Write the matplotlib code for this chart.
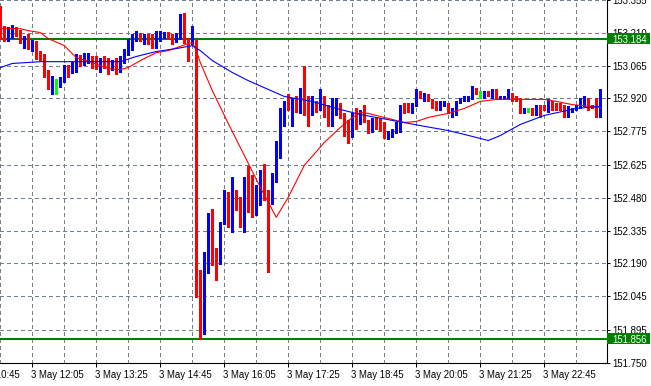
import matplotlib
matplotlib.use("Agg")
import matplotlib.pyplot as plt
import matplotlib.transforms as mtransforms
from matplotlib.patches import Rectangle
import numpy as np
import pandas as pd

# M5 bars, first visible bar opens at 11:25
first_bar = "2024-05-03 11:25"
bar_minutes = 5

opens = [153.318, 153.234, 153.194, 153.194, 153.234, 153.216, 153.163, 153.189, 153.150, 153.172,
         153.119, 153.106, 153.035, 152.960, 152.999, 152.991, 152.999, 153.044, 153.044, 153.048,
         153.097, 153.083, 153.092, 153.101, 153.092, 153.048, 153.088, 153.088, 153.052, 153.083,
         153.057, 153.088, 153.123, 153.141, 153.181, 153.203, 153.172, 153.194, 153.185, 153.154,
         153.185, 153.198, 153.207, 153.198, 153.181, 153.194, 153.282, 153.181, 153.172, 153.176,
         152.084, 151.890, 152.226, 152.328, 152.235, 152.195, 152.368, 152.478, 152.359, 152.483,
         152.443, 152.438, 152.558, 152.536, 152.412, 152.452, 152.584, 152.505, 152.456, 152.562,
         152.681, 152.836, 152.880, 152.876, 152.920, 152.880, 152.964, 152.924, 152.854, 152.889,
         152.876, 152.924, 152.876, 152.809, 152.858, 152.898, 152.845, 152.814, 152.756, 152.867,
         152.814, 152.854, 152.814, 152.778, 152.823, 152.809, 152.800, 152.748, 152.756, 152.774,
         152.778, 152.893, 152.893, 152.858, 152.889, 152.946, 152.924, 152.938, 152.911, 152.902,
         152.876, 152.889, 152.893, 152.854, 152.867, 152.902, 152.911, 152.916, 152.920, 152.964,
         152.942, 152.946, 152.951, 152.938, 152.960, 152.920, 152.920, 152.920, 152.942, 152.924,
         152.920, 152.858, 152.871, 152.876, 152.854, 152.880, 152.880, 152.862, 152.902, 152.898,
         152.889, 152.880, 152.840, 152.867, 152.871, 152.885, 152.889, 152.920, 152.889, 152.911,
         152.858]
highs = [153.331, 153.243, 153.238, 153.247, 153.238, 153.225, 153.198, 153.207, 153.181, 153.176,
         153.132, 153.119, 153.044, 153.021, 153.008, 153.017, 153.070, 153.070, 153.083, 153.119,
         153.114, 153.123, 153.123, 153.110, 153.106, 153.101, 153.106, 153.101, 153.092, 153.101,
         153.110, 153.141, 153.185, 153.207, 153.220, 153.212, 153.207, 153.207, 153.207, 153.220,
         153.220, 153.216, 153.216, 153.207, 153.212, 153.296, 153.300, 153.189, 153.243, 153.185,
         152.160, 152.239, 152.412, 152.429, 152.257, 152.372, 152.514, 152.505, 152.571, 152.514,
         152.483, 152.571, 152.619, 152.580, 152.536, 152.602, 152.628, 152.514, 152.588, 152.734,
         152.880, 152.911, 152.938, 152.924, 152.929, 152.968, 153.066, 152.933, 152.933, 152.911,
         152.964, 152.933, 152.889, 152.924, 152.924, 152.902, 152.854, 152.823, 152.854, 152.876,
         152.867, 152.889, 152.823, 152.832, 152.836, 152.832, 152.814, 152.778, 152.787, 152.814,
         152.889, 152.902, 152.902, 152.902, 152.964, 152.955, 152.946, 152.942, 152.916, 152.911,
         152.907, 152.907, 152.902, 152.880, 152.907, 152.924, 152.929, 152.929, 152.977, 152.968,
         152.955, 152.955, 152.955, 152.964, 152.964, 152.933, 152.933, 152.960, 152.946, 152.929,
         152.924, 152.880, 152.880, 152.880, 152.889, 152.889, 152.889, 152.916, 152.911, 152.902,
         152.898, 152.889, 152.885, 152.880, 152.893, 152.920, 152.929, 152.924, 152.893, 152.924,
         152.964]
lows = [153.185, 153.176, 153.176, 153.189, 153.198, 153.167, 153.145, 153.141, 153.132, 153.097,
        153.092, 153.017, 152.960, 152.942, 152.942, 152.973, 152.991, 153.013, 153.035, 153.039,
        153.066, 153.070, 153.079, 153.057, 153.052, 153.039, 153.057, 153.030, 153.044, 153.030,
        153.039, 153.079, 153.114, 153.136, 153.176, 153.176, 153.163, 153.163, 153.145, 153.145,
        153.176, 153.189, 153.185, 153.159, 153.172, 153.185, 153.167, 153.088, 153.163, 152.040,
        151.856, 151.877, 152.147, 152.182, 152.115, 152.186, 152.363, 152.350, 152.328, 152.425,
        152.350, 152.328, 152.416, 152.394, 152.403, 152.447, 152.469, 152.151, 152.452, 152.549,
        152.655, 152.800, 152.867, 152.800, 152.858, 152.854, 152.845, 152.800, 152.845, 152.858,
        152.867, 152.836, 152.800, 152.800, 152.845, 152.832, 152.756, 152.725, 152.748, 152.787,
        152.805, 152.814, 152.765, 152.770, 152.787, 152.778, 152.743, 152.739, 152.748, 152.765,
        152.770, 152.854, 152.858, 152.854, 152.885, 152.920, 152.911, 152.907, 152.876, 152.867,
        152.867, 152.885, 152.854, 152.836, 152.845, 152.898, 152.907, 152.911, 152.916, 152.938,
        152.924, 152.924, 152.933, 152.920, 152.916, 152.916, 152.916, 152.916, 152.907, 152.911,
        152.854, 152.854, 152.858, 152.849, 152.849, 152.836, 152.867, 152.858, 152.871, 152.867,
        152.871, 152.840, 152.836, 152.862, 152.867, 152.880, 152.885, 152.871, 152.876, 152.840,
        152.836]
closes = [153.220, 153.189, 153.216, 153.238, 153.212, 153.172, 153.189, 153.150, 153.172, 153.110,
          153.101, 153.035, 152.968, 152.999, 152.999, 153.008, 153.057, 153.021, 153.075, 153.101,
          153.075, 153.114, 153.110, 153.066, 153.061, 153.088, 153.066, 153.052, 153.079, 153.044,
          153.101, 153.128, 153.167, 153.185, 153.212, 153.185, 153.189, 153.176, 153.150, 153.181,
          153.198, 153.207, 153.194, 153.172, 153.203, 153.287, 153.185, 153.167, 153.185, 152.080,
          151.886, 152.226, 152.328, 152.226, 152.195, 152.368, 152.478, 152.363, 152.483, 152.438,
          152.438, 152.558, 152.540, 152.398, 152.452, 152.536, 152.505, 152.456, 152.562, 152.681,
          152.840, 152.880, 152.871, 152.920, 152.880, 152.964, 152.854, 152.809, 152.924, 152.876,
          152.924, 152.867, 152.809, 152.889, 152.898, 152.836, 152.770, 152.765, 152.814, 152.814,
          152.858, 152.832, 152.770, 152.823, 152.800, 152.792, 152.748, 152.770, 152.778, 152.800,
          152.867, 152.858, 152.862, 152.893, 152.946, 152.924, 152.938, 152.911, 152.880, 152.876,
          152.898, 152.898, 152.858, 152.867, 152.898, 152.920, 152.924, 152.924, 152.973, 152.942,
          152.942, 152.951, 152.938, 152.960, 152.920, 152.929, 152.929, 152.955, 152.911, 152.916,
          152.862, 152.876, 152.871, 152.854, 152.885, 152.867, 152.867, 152.911, 152.876, 152.880,
          152.876, 152.845, 152.876, 152.876, 152.889, 152.902, 152.920, 152.876, 152.880, 152.885,
          152.951]

# moving averages, read at selected bars
red_ma_bars = [0, 5, 7, 10, 12, 16, 19, 23, 27, 30, 32, 35, 39, 42, 47, 48, 49, 50, 53, 57,
               62, 65, 69, 72, 76, 81, 85, 88, 90, 92, 96, 101, 104, 107, 112, 116, 120, 124,
               136, 139, 143, 150]
red_ma = [153.229, 153.229, 153.220, 153.212, 153.185, 153.154, 153.101, 153.079, 153.052, 153.048,
          153.057, 153.088, 153.123, 153.132, 153.163, 153.167, 153.132, 153.079, 152.955, 152.809,
          152.633, 152.527, 152.394, 152.483, 152.624, 152.725, 152.792, 152.836, 152.858, 152.854,
          152.836, 152.814, 152.818, 152.836, 152.854, 152.876, 152.907, 152.916,
          152.916, 152.907, 152.893, 152.880]
blue_ma_bars = [0, 3, 10, 30, 34, 39, 44, 48, 50, 53, 58, 62, 67, 71, 75, 78, 84, 90, 98, 105,
                112, 116, 120, 122, 125, 130, 136, 144, 150]
blue_ma = [153.057, 153.075, 153.083, 153.083, 153.106, 153.128, 153.141, 153.154, 153.132, 153.088,
           153.035, 152.999, 152.960, 152.929, 152.916, 152.907, 152.876, 152.849, 152.823, 152.800,
           152.778, 152.761, 152.743, 152.734, 152.756, 152.805, 152.845, 152.876, 152.885]

price_ticks = [151.750, 151.895, 152.045, 152.190, 152.335, 152.480, 152.625,
               152.775, 152.920, 153.065, 153.210, 153.355]
time_labels = ["10:45", "12:05", "13:25", "14:45", "16:05", "17:25",
               "18:45", "20:05", "21:25", "22:45"]
levels = [153.184, 151.856]

GRID = "#708090"
GREEN = "#008000"
FONT = "Liberation Sans"
FS = 6.9

W, H = 651, 386
fig = plt.figure(figsize=(W / 100, H / 100), dpi=100)
fig.patch.set_facecolor("white")
ax = fig.add_axes([0, 23 / H, 606.5 / W, 363 / H])
n = len(opens)
ax.set_xlim(-0.075, 151.55)
ax.set_ylim(151.749, 153.356)

t0 = pd.Timestamp(first_bar)
def bar_of(hm):
    t = pd.Timestamp(first_bar[:11] + hm)
    return (t - t0) / pd.Timedelta(minutes=bar_minutes)

# grid
for p in price_ticks:
    ax.axhline(p, color=GRID, lw=0.75, ls=(0, (3, 3)), zorder=0, antialiased=False)
for b in range(0, n, 8):
    ax.axvline(b, color=GRID, lw=0.75, ls=(0, (3, 3)), zorder=0, antialiased=False)

# levels
for lv in levels:
    ax.axhline(lv, color=GREEN, lw=1.5, zorder=1)

# candles
o = np.array(opens); c = np.array(closes)
hi = np.array(highs); lo = np.array(lows)
idx = np.arange(n)
cols = np.where(c > o, "#0000FF", np.where(c < o, "#FF0000", "#00FF00"))
ax.vlines(idx, lo, hi, colors=cols, lw=0.75, zorder=3, antialiased=False)
px = (153.356 - 151.749) / 363
bottoms = np.minimum(o, c)
heights = np.maximum(np.abs(c - o), px)
ax.bar(idx, heights, bottom=bottoms, width=0.75, color=cols, lw=0, zorder=3, antialiased=False)

# moving averages
ax.plot(red_ma_bars, red_ma, color="#FF0000", lw=0.8, zorder=4)
ax.plot(blue_ma_bars, blue_ma, color="#0000FF", lw=0.8, zorder=4)

# axes look
for s in ["left", "top"]:
    ax.spines[s].set_visible(False)
for s in ["right", "bottom"]:
    ax.spines[s].set_linewidth(0.8)
    ax.spines[s].set_color("black")

ax.yaxis.tick_right()
ax.set_yticks(price_ticks)
ax.set_yticklabels([f"{p:.3f}" for p in price_ticks], fontfamily=FONT, fontsize=FS)
ax.tick_params(axis="y", direction="out", length=2.2, width=0.72, pad=2.0)

lab_bars = [bar_of(t) for t in time_labels]
ax.set_xticks([b for b in lab_bars if b >= 0])
ax.set_xticklabels([])
ax.tick_params(axis="x", direction="out", length=3, width=0.72)
xt = mtransforms.blended_transform_factory(ax.transData, ax.transAxes)
for b, t in zip(lab_bars, time_labels):
    ax.text(b - 0.4, (363 - 378.3) / 363, "3 May " + t, transform=xt, ha="left", va="baseline",
            fontfamily=FONT, fontsize=FS, clip_on=False)

# level boxes on the price scale
bt = mtransforms.blended_transform_factory(fig.transFigure, ax.transData)
for lv in levels:
    ax.add_patch(Rectangle((607 / W, lv - 5.5 * px), 42.5 / W, 11 * px, transform=bt,
                           facecolor=GREEN, edgecolor="none", clip_on=False, zorder=5))
    ax.text(612 / W, lv, f"{lv:.3f}", transform=bt, ha="left", va="center_baseline",
            color="white", fontfamily=FONT, fontsize=FS, clip_on=False, zorder=6)

fig.savefig("out.png", dpi=100)
